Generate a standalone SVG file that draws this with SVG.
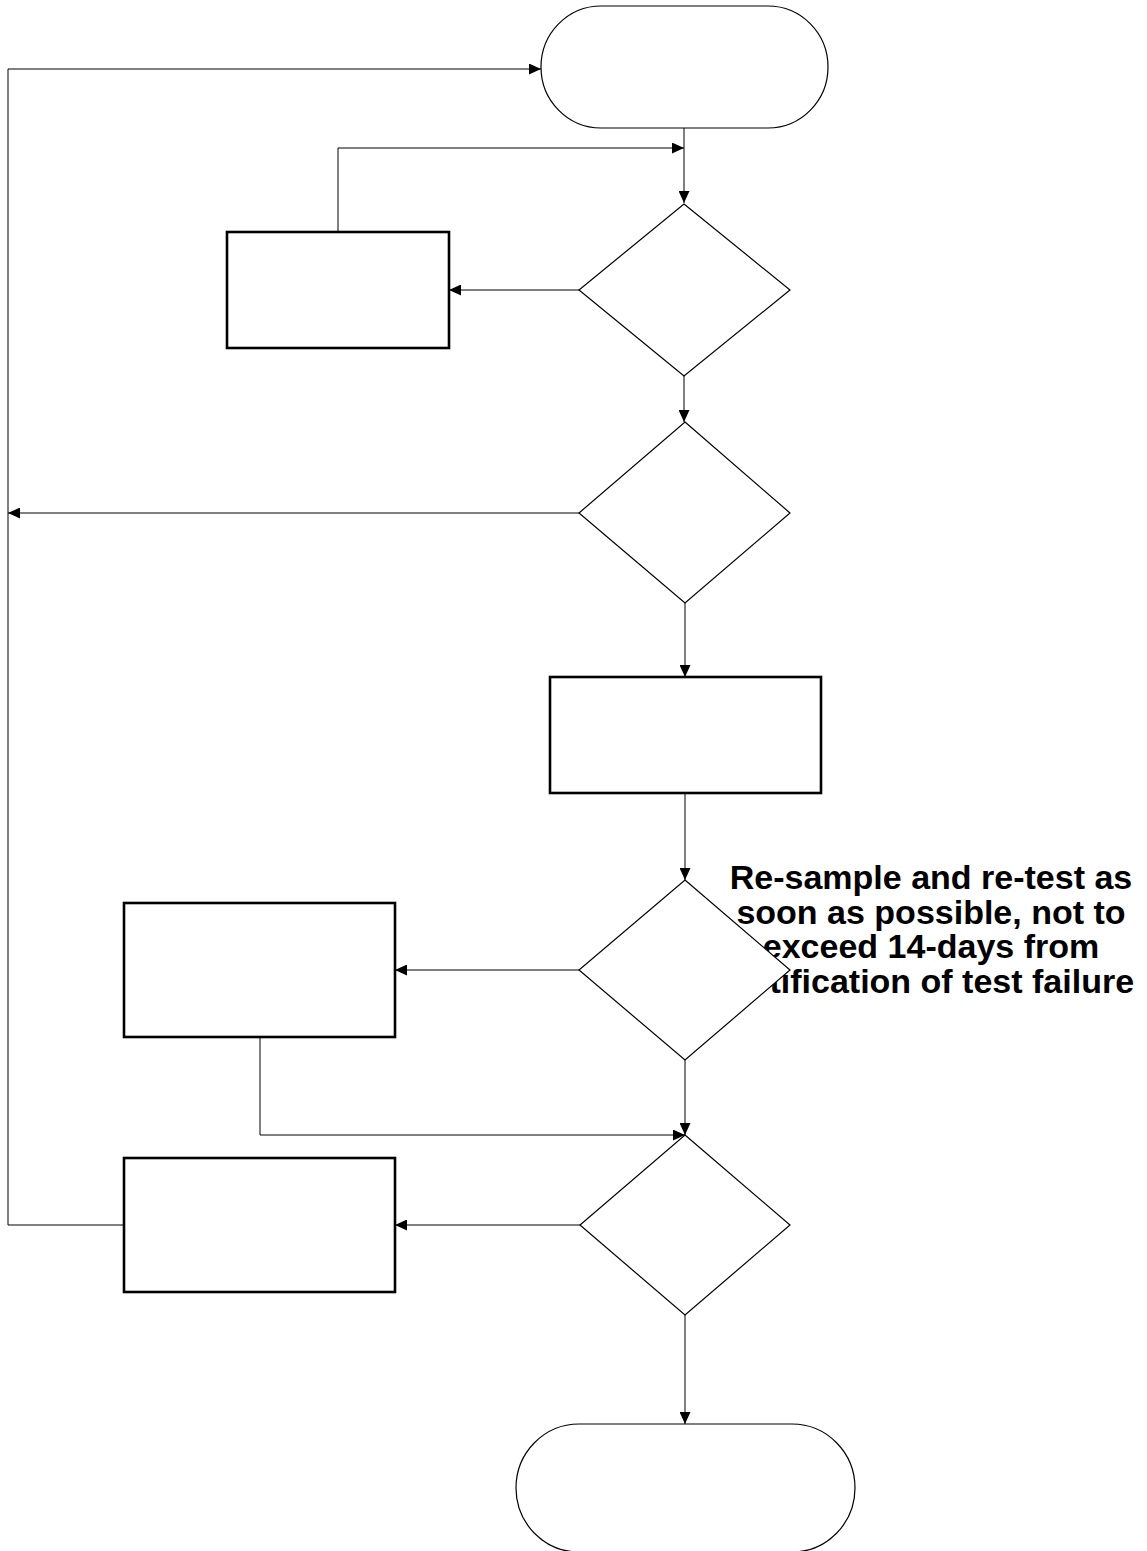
<svg xmlns="http://www.w3.org/2000/svg" width="1147" height="1551" viewBox="0 0 1147 1551">
<style>
.bg{fill:#fff}
.conn{fill:none;stroke:#000;stroke-width:1;marker-end:url(#arr)}
.line{fill:none;stroke:#000;stroke-width:1}
.term{fill:#fff;stroke:#000;stroke-width:1.2}
.dec{fill:#fff;stroke:#000;stroke-width:1.2}
.proc{fill:#fff;stroke:#000;stroke-width:2.6}
.lbl{font-family:"Liberation Sans",Arial,sans-serif;font-weight:bold;font-size:34px;fill:#000;text-anchor:middle}
</style>
<defs>
<marker id="arr" markerUnits="userSpaceOnUse" markerWidth="12" markerHeight="11" refX="12" refY="5.5" orient="auto">
<path d="M0,0 L12,5.5 L0,11 z" fill="#000"/>
</marker>
</defs>
<rect class="bg" x="0" y="0" width="1147" height="1551"/>
<g id="connectors">
<path class="conn" d="M124,1225 H8 V69 H541"/>
<path class="conn" d="M579,513 H8"/>
<path class="conn" d="M684,128 V203"/>
<path class="conn" d="M338,232 V148 H684"/>
<path class="conn" d="M579,290 H449"/>
<path class="conn" d="M684,376 V422"/>
<path class="conn" d="M685,603 V677"/>
<path class="conn" d="M685,793 V880"/>
<path class="conn" d="M579,970 H395"/>
<path class="conn" d="M260,1037 V1135 H685"/>
<path class="conn" d="M685,1060 V1135"/>
<path class="conn" d="M580,1225 H395"/>
<path class="conn" d="M685,1315 V1424"/>
</g>
<g id="label-resample">
<text class="lbl" x="931" y="889">Re-sample and re-test as</text>
<text class="lbl" x="931" y="923.5">soon as possible, not to</text>
<text class="lbl" x="931" y="958">exceed 14-days from</text>
<text class="lbl" x="931" y="992.5">notification of test failure</text>
</g>
<g id="start"><rect class="term" x="541" y="6" width="287" height="122" rx="60" ry="61"/></g>
<g id="decision1"><polygon class="dec" points="684,204 790,290 684,376 579,290"/></g>
<g id="process1"><rect class="proc" x="227" y="232" width="222" height="116"/></g>
<g id="decision2"><polygon class="dec" points="685,422 790,513 685,603 579,513"/></g>
<g id="process2"><rect class="proc" x="550" y="677" width="271" height="116"/></g>
<g id="decision3"><polygon class="dec" points="685,880 790,970 685,1060 579,970"/></g>
<g id="process3"><rect class="proc" x="124" y="903" width="271" height="134"/></g>
<g id="decision4"><polygon class="dec" points="685,1135 790,1225 685,1315 580,1225"/></g>
<g id="process4"><rect class="proc" x="124" y="1158" width="271" height="134"/></g>
<g id="end"><rect class="term" x="516" y="1424" width="339" height="128" rx="63" ry="64"/></g>
</svg>
